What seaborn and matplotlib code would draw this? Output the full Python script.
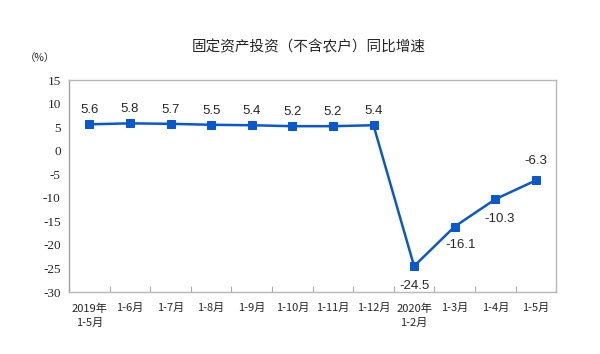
import pandas as pd
import numpy as np
import matplotlib
matplotlib.use("Agg")
import matplotlib.pyplot as plt
import seaborn as sns

# Data
periods = ["2019年\n1-5月", "1-6月", "1-7月", "1-8月", "1-9月", "1-10月", "1-11月",
           "1-12月", "2020年\n1-2月", "1-3月", "1-4月", "1-5月"]
growth = [5.6, 5.8, 5.7, 5.5, 5.4, 5.2, 5.2, 5.4, -24.5, -16.1, -10.3, -6.3]
y_ticks = [15, 10, 5, 0, -5, -10, -15, -20, -25, -30]

df = pd.DataFrame({"pos": np.arange(len(periods)), "growth": growth})

sns.set_style("white")
plt.rcParams["font.family"] = ["Noto Sans CJK SC", "DejaVu Sans"]

fig = plt.figure(figsize=(6, 3.54), dpi=100)
ax = fig.add_axes([0.115, 0.175, 0.812, 0.599])

line_color = "#0958CF"
sns.lineplot(data=df, x="pos", y="growth", ax=ax, color=line_color, linewidth=1.8,
             marker="s", markersize=6, markeredgecolor=line_color)

ax.set_xlim(-0.5, len(periods) - 0.5)
ax.set_ylim(-30, 15)
ax.set_yticks(y_ticks)
ax.set_yticklabels([str(v) for v in y_ticks], fontsize=9.5)
for lbl in ax.get_yticklabels():
    lbl.set_fontfamily(["Liberation Serif"])

# boundary ticks without labels, labels centred under each point
ax.set_xticks(np.arange(-0.5, len(periods), 1.0))
ax.set_xticklabels([])
ax.set_xticks(df["pos"], minor=True)
ax.set_xticklabels(periods, minor=True, fontsize=8, linespacing=1.5)
ax.tick_params(axis="x", which="major", direction="in", length=4, color="#aaaaaa", bottom=True)
ax.tick_params(axis="x", which="minor", length=0, pad=8)
ax.tick_params(axis="y", length=0, pad=6)
ax.set_xlabel("")
ax.set_ylabel("")

for side in ["top", "right", "left", "bottom"]:
    ax.spines[side].set_color("#b8b8b8")
    ax.spines[side].set_linewidth(1)
ax.spines["left"].set_color("#a0a0a0")

# value labels
offsets = [(0, 10)] * 8 + [(0, -14), (4, -13), (3, -14), (0, 14)]
for (x, y), (dx, dy) in zip(zip(df["pos"], df["growth"]), offsets):
    ax.annotate(f"{y:.1f}", (x, y), xytext=(dx, dy), textcoords="offset points",
                ha="center", va="center", fontsize=9.5, family="Liberation Sans")

fig.text(0.515, 0.867, "固定资产投资（不含农户）同比增速", ha="center", va="center",
         fontsize=10.5, fontweight="medium")
fig.text(0.067, 0.835, "（%）", ha="center", va="center", fontsize=7.5)

fig.savefig("out.png", dpi=100)
